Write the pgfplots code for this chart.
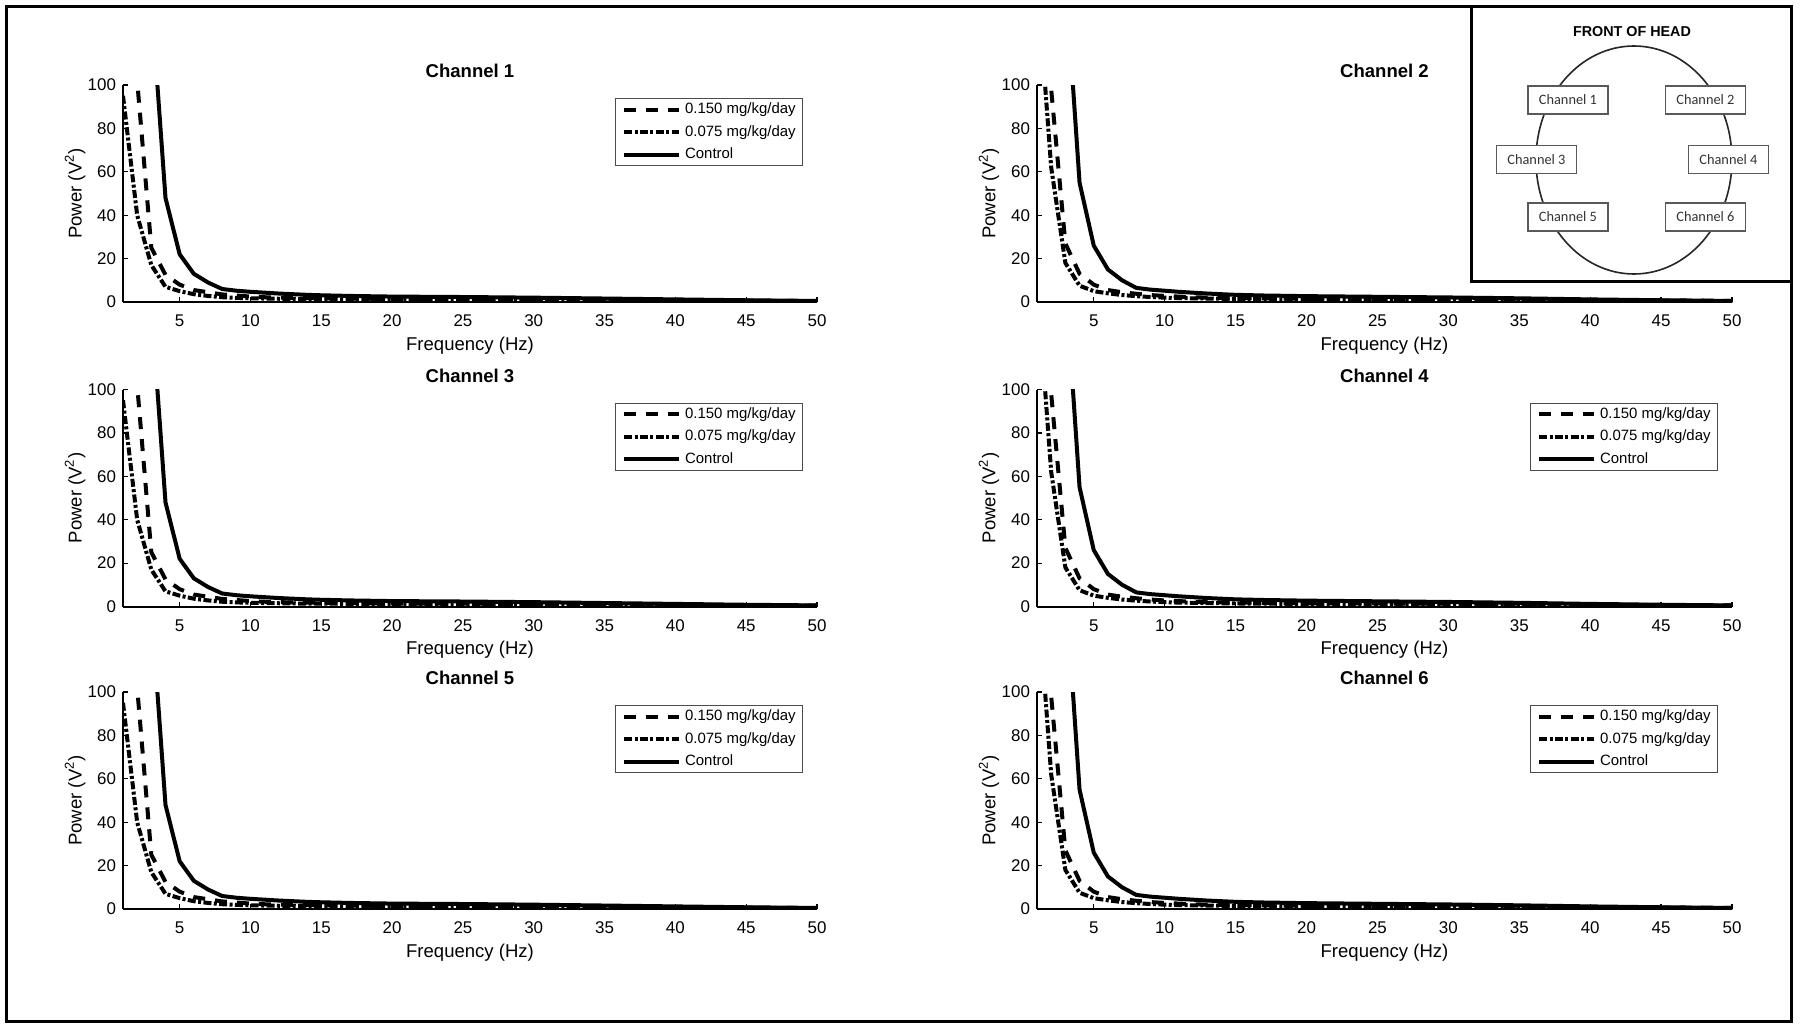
\documentclass[border=0pt]{standalone}
\usepackage{pgfplots}
\usepackage{pgfplotstable}
\pgfplotsset{compat=1.18}
\usepackage{fontspec}
\setmainfont{Liberation Sans}
\newfontfamily\carl{Carlito}

\pgfplotstableread{
f hi lo ctrl
1 300 95 400
2 102 40 250
3 25 17 139
4 12.5 7 48
5 8 5 22
6 5.5 3.6 13
7 4.5 2.8 9
8 3.5 2.2 6
9 3 1.9 5.2
10 2.5 1.7 4.7
11 2.2 1.6 4.3
12 2 1.5 3.9
13 1.9 1.4 3.6
14 1.8 1.35 3.3
15 1.7 1.3 3.1
17 1.6 1.25 2.8
20 1.4 1.2 2.5
25 1.3 1.1 2.3
30 1.2 1.0 2.0
35 1.0 0.9 1.6
40 0.8 0.7 1.2
45 0.6 0.5 0.8
50 0.4 0.4 0.5
}\dataA

\pgfplotstableread{
f hi lo ctrl
1 300 150 400
2 98 62 250
3 27 18 151
4 13 7.5 55
5 8 5 26
6 5.5 4 15
7 4.5 3.2 10
8 3.8 2.7 6.5
9 3.2 2.3 5.7
10 2.8 2 5.2
11 2.5 1.8 4.7
12 2.2 1.7 4.3
13 2 1.6 3.9
14 1.9 1.5 3.6
15 1.8 1.4 3.3
17 1.7 1.3 3.0
20 1.5 1.2 2.7
25 1.4 1.1 2.4
30 1.3 1.0 2.1
35 1.1 0.9 1.7
40 0.9 0.7 1.2
45 0.7 0.5 0.8
50 0.5 0.4 0.5
}\dataB

\pgfplotsset{
 chan/.style={
  scale only axis, width=347bp, height=108.5bp, anchor=south west,
  xmin=1, xmax=50, ymin=0, ymax=100,
  xtick={5,10,...,50}, ytick={0,20,...,100},
  axis x line=bottom, axis y line=left,
  axis line style={-, line width=1bp},
  tick align=inside, major tick length=2.5bp,
  tick style={line width=0.6bp, black},
  ticklabel style={font=\fontsize{8.5}{10}\selectfont},
  /pgf/number format/assume math mode=true,
  xticklabel style={yshift=-3bp},
  xlabel={Frequency (Hz)}, ylabel={Power (V\textsuperscript{2})},
  label style={font=\fontsize{9.3}{11}\selectfont},
  xlabel style={at={(axis description cs:0.5,-0.2)},anchor=center},
  ylabel style={at={(axis description cs:-0.069,0.5)},anchor=center},
  every axis title shift=0pt,
  title style={at={(axis description cs:0.5,1.0636)},anchor=center,font=\bfseries\fontsize{9.3}{11}\selectfont},
  legend style={at={(0.98,0.94)}, anchor=north east, draw=black!70, line width=0.5bp, fill=white,
    font=\fontsize{7.5}{8}\selectfont, inner xsep=3.5bp, inner ysep=2bp, row sep=4.25bp, column sep=2bp,
    nodes={inner sep=0pt, text height=5.5bp, text depth=1.5bp}},
  legend cell align=left,
  legend image code/.code={\draw[#1] (0bp,0bp) -- (27.5bp,0bp);},
 },
 hiS/.style={black, line width=2bp, dash pattern=on 6bp off 5bp},
 loS/.style={black, line width=2bp, dash pattern=on 4bp off 1.2bp on 1.5bp off 1.2bp},
 ctS/.style={black, line width=2bp, solid},
}

\newcommand{\chanplots}[1]{%
  \addplot[hiS] table[x=f,y=hi] {#1};
  \addplot[loS] table[x=f,y=lo] {#1};
  \addplot[ctS] table[x=f,y=ctrl] {#1};
}
\newcommand{\chanlegend}{\legend{0.150 mg/kg/day,0.075 mg/kg/day,Control}}

\begin{document}
\begin{tikzpicture}
\path (0bp,0bp) rectangle (900bp,-515bp);

\begin{axis}[chan, at={(61.5bp,-151bp)}, title={Channel 1}]
\chanplots{\dataA}
\chanlegend
\end{axis}
\begin{axis}[chan, at={(518.5bp,-151bp)}, width=347.5bp, title={Channel 2}]
\chanplots{\dataB}
\end{axis}
\begin{axis}[chan, at={(61.5bp,-303.25bp)}, title={Channel 3}]
\chanplots{\dataA}
\chanlegend
\end{axis}
\begin{axis}[chan, at={(518.5bp,-303.25bp)}, width=347.5bp, title={Channel 4}]
\chanplots{\dataB}
\chanlegend
\end{axis}
\begin{axis}[chan, at={(61.5bp,-454.5bp)}, title={Channel 5}]
\chanplots{\dataA}
\chanlegend
\end{axis}
\begin{axis}[chan, at={(518.5bp,-454.5bp)}, width=347.5bp, title={Channel 6}]
\chanplots{\dataB}
\chanlegend
\end{axis}

\begin{scope}[x=0.5bp,y=-0.5bp]
\draw[line width=1.5bp] (7,7) rectangle (1792,1022);
\draw[line width=1.5bp, fill=white] (1472,7) rectangle (1792,282);
\draw[line width=0.8bp, black!85] (1634,160) ellipse [x radius=98, y radius=114];
\node[font=\bfseries\fontsize{7.2}{8}\selectfont] at (1632,32) {FRONT OF HEAD};
\tikzset{cb/.style={draw=black!65, fill=white, line width=0.6bp, minimum width=40bp, minimum height=14bp, inner sep=0pt, font=\carl\fontsize{7.2}{8}\selectfont, text=black!80}}
\node[cb] at (1568,100) {Channel 1};
\node[cb] at (1705.5,100) {Channel 2};
\node[cb] at (1536.5,159.5) {Channel 3};
\node[cb] at (1728.5,159.5) {Channel 4};
\node[cb] at (1568,217) {Channel 5};
\node[cb] at (1705.5,217) {Channel 6};
\end{scope}
\end{tikzpicture}
\end{document}
